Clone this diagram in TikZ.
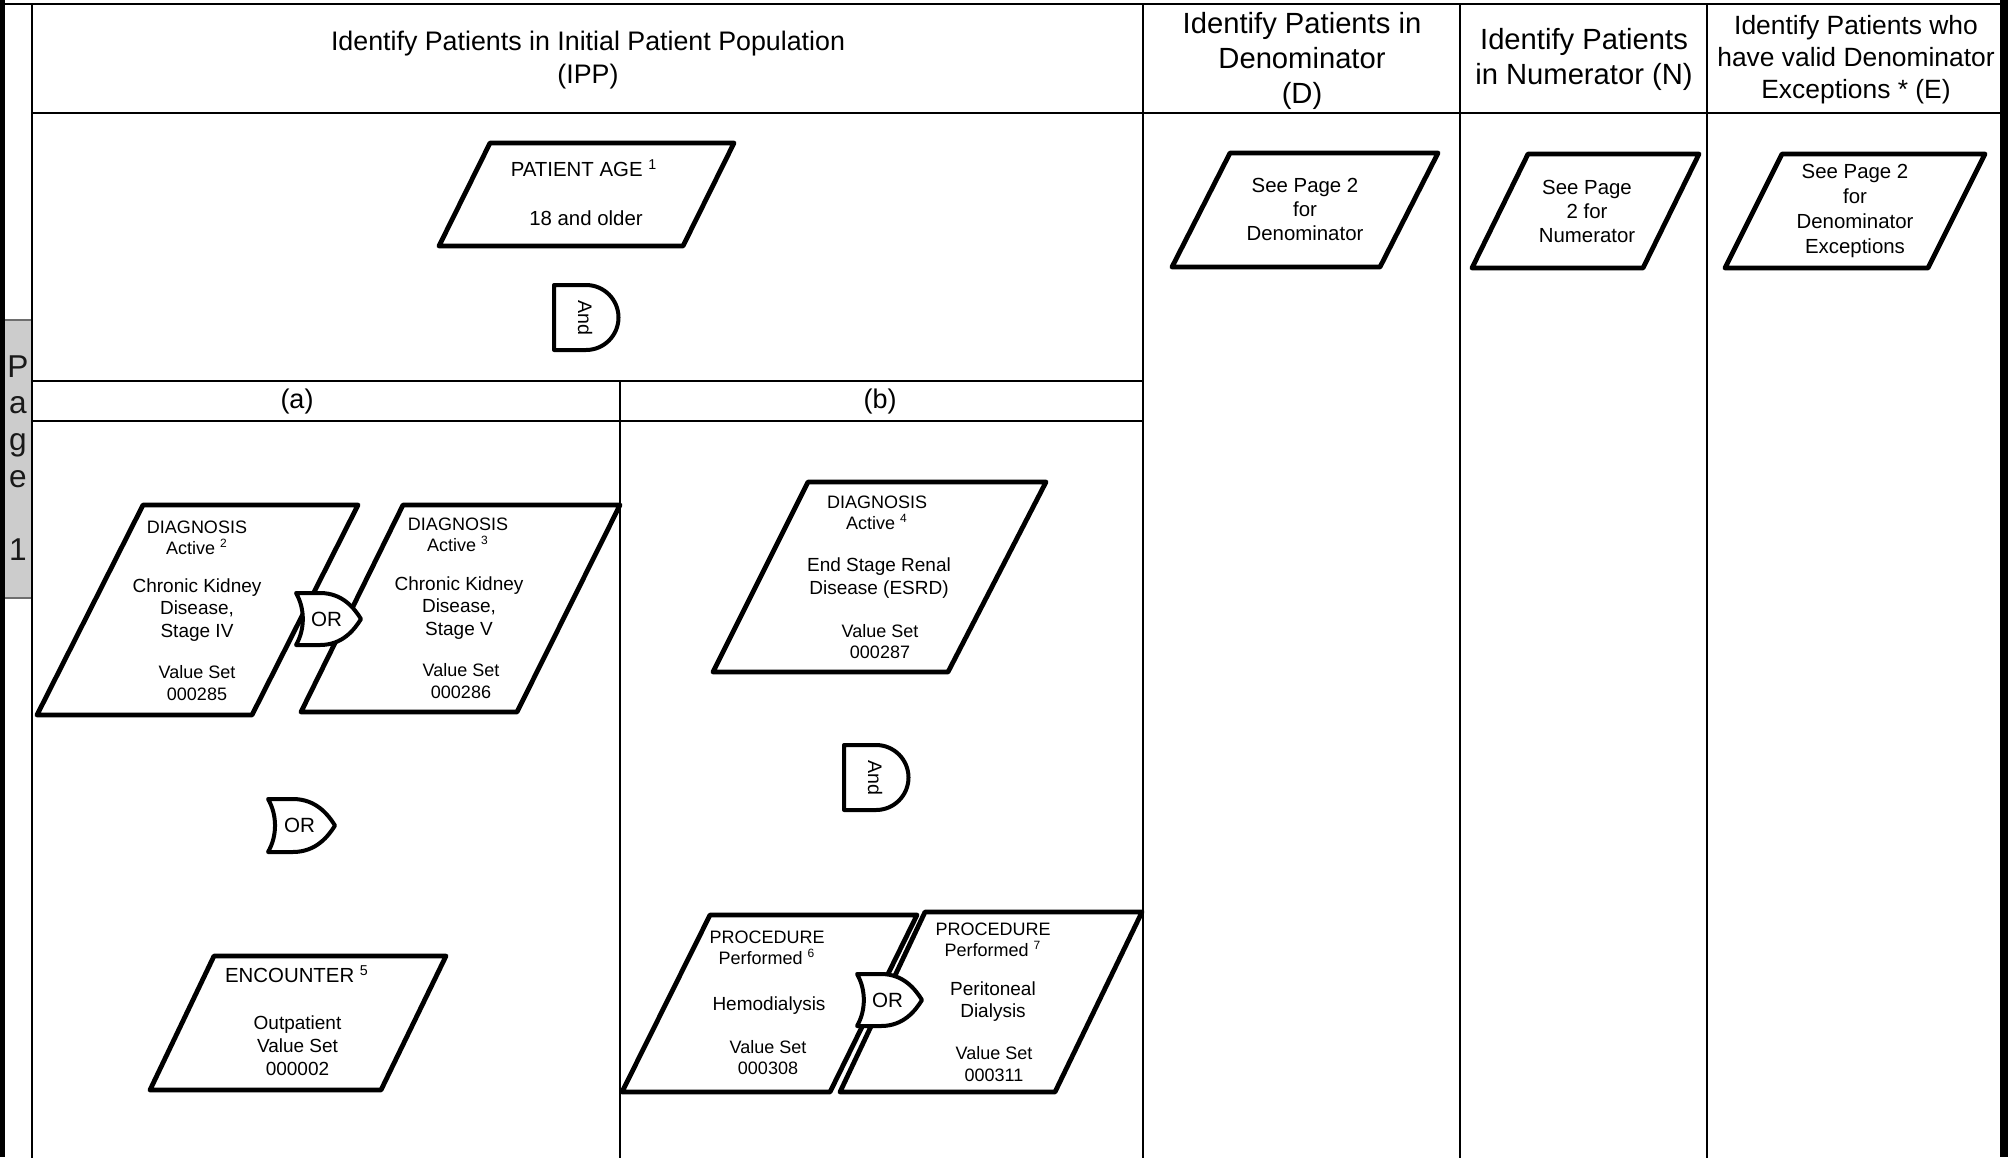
\documentclass[tikz,border=0pt]{standalone}
\usepackage{fontspec}
\setmainfont{Liberation Sans}
\definecolor{tabgray}{RGB}{204,204,204}
\definecolor{tabedge}{RGB}{110,110,110}
\tikzset{
  gridline/.style={line width=0.75pt, line cap=rect},
  boxline/.style={line width=2.4pt, line join=round, draw=black, fill=white},
  gateline/.style={line width=2pt, line join=round, draw=black, fill=white},
  txt/.style={align=center, inner sep=0pt},
  hdrA/.style={txt, font=\fontsize{13.4}{16.5}\selectfont},
  hdrB/.style={txt, font=\fontsize{14.6}{17.5}\selectfont},
  hdrC/.style={txt, font=\fontsize{13.2}{16}\selectfont},
  subhdr/.style={txt, font=\fontsize{13.5}{16}\selectfont},
  ttl/.style={txt, font=\fontsize{9}{10.6}\selectfont},
  bdy/.style={txt, font=\fontsize{9.5}{11.3}\selectfont},
  bigtxt/.style={txt, font=\fontsize{10.2}{12}\selectfont},
  gatetext/.style={txt, font=\fontsize{10.3}{12}\selectfont},
  andtext/.style={txt, font=\fontsize{9.8}{11}\selectfont, rotate=-90},
  tabtext/.style={inner sep=0pt, anchor=base, font=\fontsize{15.8}{18}\selectfont, text=black!90},
}
% OR gate: name, x, y, width, height
\newcommand\ORgate[5]{%
  \draw[gateline] (#2,#3) -- ({#2+0.37*#4},#3)
    .. controls ({#2+0.72*#4},#3) and ({#2+0.9*#4},{#3+0.3*#5}) .. ({#2+#4},{#3+0.5*#5})
    .. controls ({#2+0.9*#4},{#3+0.7*#5}) and ({#2+0.72*#4},{#3+#5}) .. ({#2+0.37*#4},{#3+#5})
    -- (#2,{#3+#5})
    .. controls ({#2+0.14*#4},{#3+0.7*#5}) and ({#2+0.14*#4},{#3+0.3*#5}) .. cycle;
  \node[gatetext] (#1) at ({#2+0.47*#4},{#3+0.5*#5}) {OR};
}
% AND gate: name, x, y (top-left), height
\newcommand\ANDgate[4]{%
  \draw[gateline] (#2,#3) -- ({#2+32},#3)
    .. controls ({#2+32+0.5523*#4/2},#3) and ({#2+32+#4/2},{#3+#4/2-0.5523*#4/2}) .. ({#2+32+#4/2},{#3+#4/2})
    .. controls ({#2+32+#4/2},{#3+#4/2+0.5523*#4/2}) and ({#2+32+0.5523*#4/2},{#3+#4}) .. ({#2+32},{#3+#4})
    -- (#2,{#3+#4}) -- cycle;
  \node[andtext] (#1) at ({#2+31},{#3+#4/2}) {And};
}
\begin{document}
\begin{tikzpicture}[x=0.5pt,y=-0.5pt]
\useasboundingbox (0,0) rectangle (2011,1157);
\fill[white] (0,0) rectangle (2011,1157);

% page tab
\draw[fill=tabgray, draw=tabedge, line width=0.6pt] (4,320) rectangle (32,598);
\node[tabtext] (tabP) at (18,377) {P};
\node[tabtext] (taba) at (18,413) {a};
\node[tabtext] (tabg) at (18,450) {g};
\node[tabtext] (tabe) at (18,487) {e};
\node[tabtext] (tab1) at (18,560) {1};

% frame and grid
\draw[line width=2.25pt] (2.25,0) -- (2.25,1157);
\draw[line width=4pt] (2004,0) -- (2004,1157);
\draw[line width=1.25pt] (0,4) -- (2006,4);
\draw[gridline] (32,4) -- (32,1157);
\draw[gridline] (32,113) -- (2002,113);
\draw[gridline] (32,381) -- (1143,381);
\draw[gridline] (32,421) -- (1143,421);
\draw[gridline] (620,381) -- (620,1157);
\draw[gridline] (1143,4) -- (1143,1157);
\draw[gridline] (1460,4) -- (1460,1157);
\draw[gridline] (1707,4) -- (1707,1157);

% headers
\node[hdrA] (hIPP) at (588,60) {Identify Patients in Initial Patient Population\\(IPP)};
\node[hdrB] (hD) at (1302,61) {Identify Patients in\\Denominator\\(D)};
\node[hdrB] (hN) at (1584,59) {Identify Patients\\in Numerator (N)};
\node[hdrC] (hE) at (1856,60) {Identify Patients who\\have valid Denominator\\Exceptions * (E)};
\node[subhdr] (ha) at (297,402) {(a)};
\node[subhdr] (hb) at (880,402) {(b)};

% patient age
\draw[boxline] (490,143) -- (734,143) -- (683,246) -- (439,246) -- cycle;
\node[bigtxt] (paT) at (584,168) {PATIENT AGE \textsuperscript{1}};
\node[bigtxt] (paB) at (586,218) {18 and older};
\ANDgate{and1}{554}{285}{65}

% (a) diagnoses
\draw[boxline] (143,505) -- (358,505) -- (252,715) -- (37,715) -- cycle;
\node[ttl] (d1t) at (197,538) {DIAGNOSIS\\Active \textsuperscript{2}};
\node[bdy] (d1b) at (197,610) {Chronic Kidney\\Disease,\\Stage IV};
\node[ttl] (d1v) at (197,683) {Value Set\\000285};

\draw[boxline] (403,505) -- (620,505) -- (517,712) -- (301,712) -- cycle;
\node[ttl] (d2t) at (458,535) {DIAGNOSIS\\Active \textsuperscript{3}};
\node[bdy] (d2b) at (459,608) {Chronic Kidney\\Disease,\\Stage V};
\node[ttl] (d2v) at (461,681) {Value Set\\000286};

\ORgate{or1}{296}{593}{65}{52}
\ORgate{or2}{268}{799}{67}{53}

% encounter
\draw[boxline] (214,956) -- (446,956) -- (381,1090) -- (150,1090) -- cycle;
\node[bigtxt] (enT) at (297,974) {ENCOUNTER \textsuperscript{5}};
\node[bdy, font=\fontsize{9.5}{11.5}\selectfont] (enB) at (297.5,1046) {Outpatient\\Value Set\\000002};

% (b) ESRD
\draw[boxline] (808,482) -- (1046,482) -- (948,672) -- (713,672) -- cycle;
\node[ttl] (est) at (877,513) {DIAGNOSIS\\Active \textsuperscript{4}};
\node[bdy] (esb) at (879,578) {End Stage Renal\\Disease (ESRD)};
\node[ttl] (esv) at (880,641.5) {Value Set\\000287};
\ANDgate{and2}{844}{745}{65}

% procedures
\draw[boxline] (710,915) -- (917,915) -- (830,1092) -- (622,1092) -- cycle;
\node[ttl] (p1t) at (767,948) {PROCEDURE\\Performed \textsuperscript{6}};
\node[bdy] (p1b) at (769,1006) {Hemodialysis};
\node[ttl] (p1v) at (768,1057.5) {Value Set\\000308};

\draw[boxline] (925,912) -- (1142,912) -- (1055,1092) -- (840,1092) -- cycle;
\node[ttl] (p2t) at (993,940) {PROCEDURE\\Performed \textsuperscript{7}};
\node[bdy] (p2b) at (993,1001.5) {Peritoneal\\Dialysis};
\node[ttl] (p2v) at (994,1064) {Value Set\\000311};

\ORgate{or3}{857}{974}{65}{52}

% see page boxes
\draw[boxline] (1230,153) -- (1438,153) -- (1380,267) -- (1172,267) -- cycle;
\node[bigtxt] (denT) at (1305,209) {See Page 2\\for\\Denominator};
\draw[boxline] (1528,154) -- (1699,154) -- (1643,268) -- (1472,268) -- cycle;
\node[bigtxt] (numT) at (1587,211) {See Page\\2 for\\Numerator};
\draw[boxline] (1782,154) -- (1985,154) -- (1928,268) -- (1725,268) -- cycle;
\node[bigtxt, font=\fontsize{10.2}{12.5}\selectfont] (excT) at (1855,211) {See Page 2\\for\\Denominator\\Exceptions};
\end{tikzpicture}
\end{document}
